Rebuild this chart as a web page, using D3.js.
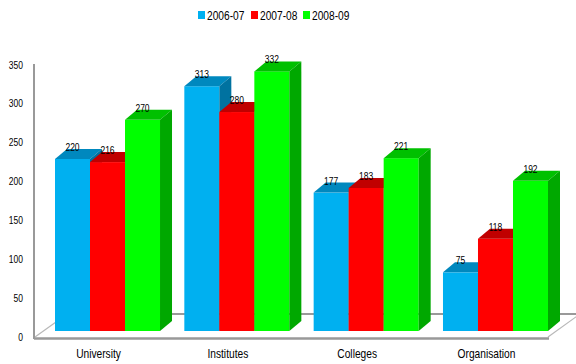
<!DOCTYPE html>
<html><head><meta charset="utf-8">
<script src="https://cdn.jsdelivr.net/npm/d3@7"></script>
<style>
body{margin:0;background:#fff;}
text{font-family:"Liberation Sans Narrow","Arial Narrow","Liberation Sans",Arial,sans-serif;fill:#000;}
</style></head>
<body>
<svg id="c" width="576" height="364"></svg>
<script>
const categories = ["University","Institutes","Colleges","Organisation"];
const seriesNames = ["2006-07","2007-08","2008-09"];
const values2006 = [220, 313, 177, 75];
const values2007 = [216, 280, 183, 118];
const values2008 = [270, 332, 221, 192];
const yTicks = [0,50,100,150,200,250,300,350];

const series = [values2006, values2007, values2008];
const front = ["#00B0F0","#FF0000","#00FF00"];
const topC  = ["#0088BE","#C00000","#00C000"];
const sideC = ["#0072A0","#B00000","#00A800"];

const svg = d3.select("#c");
const DX = 12, DY = 10;
const SX = 0.85; // horizontal condensing of text

function txt(sel, x, y, s, size, anchor){
  return sel.append("text")
    .attr("transform",`translate(${x},${y}) scale(${SX},1)`)
    .attr("text-anchor",anchor||"start")
    .style("font-size",size+"px").text(s);
}

// scales
const x0 = d3.scaleBand().domain(categories).range([55, 548]).paddingInner(0.188).paddingOuter(0);
const x1 = d3.scaleBand().domain(seriesNames).range([0, x0.bandwidth()]);
const yBar = d3.scaleLinear().domain([0,350]).range([331, 331 - 350*0.782]);
const yAxis = d3.scaleLinear().domain([0,350]).range([337, 65]);

// floor
const g0 = svg.append("g");
g0.append("line").attr("x1",35).attr("y1",337).attr("x2",70).attr("y2",312).attr("stroke","#b8b8b8").attr("stroke-width",1.2);
g0.append("line").attr("x1",548).attr("y1",337).attr("x2",580).attr("y2",314).attr("stroke","#b8b8b8").attr("stroke-width",1.2);
g0.append("line").attr("x1",62).attr("y1",314).attr("x2",576).attr("y2",314).attr("stroke","#999").attr("stroke-width",2);
g0.append("line").attr("x1",34).attr("y1",338.5).attr("x2",549).attr("y2",338.5).attr("stroke","#999").attr("stroke-width",2.5);
g0.append("line").attr("x1",34).attr("y1",64).attr("x2",34).attr("y2",339).attr("stroke","#999").attr("stroke-width",2);

// y axis labels (built from axis scale ticks)
const axG = svg.append("g");
yTicks.forEach(t=>{
  txt(axG, 23, yAxis(t)+3.5, d3.format("d")(t), 10, "end");
});

// bars
const bars = [];
categories.forEach((c,ci)=>{
  seriesNames.forEach((s,si)=>{
    bars.push({c, s, si, v: series[si][ci]});
  });
});
const bg = svg.append("g");
bars.forEach(b=>{
  const x = x0(b.c) + x1(b.s);
  const w = x1.bandwidth();
  const yt = yBar(b.v), yb = yBar(0);
  const g = bg.append("g");
  g.append("rect").attr("x",x).attr("y",yt).attr("width",w).attr("height",yb-yt).attr("fill",front[b.si]);
  g.append("polygon").attr("points",`${x},${yt} ${x+DX},${yt-DY} ${x+w+DX},${yt-DY} ${x+w},${yt}`).attr("fill",topC[b.si]);
  g.append("polygon").attr("points",`${x+w},${yt} ${x+w+DX},${yt-DY} ${x+w+DX},${yb-DY} ${x+w},${yb}`).attr("fill",sideC[b.si]);
});
// value labels
const lblG = svg.append("g");
bars.forEach(b=>{
  const x = x0(b.c) + x1(b.s) + x1.bandwidth()/2;
  txt(lblG, x, yBar(b.v)-8, b.v, 10, "middle");
});

// category labels
const catG = svg.append("g");
categories.forEach(c=>{
  txt(catG, x0(c)+x0.bandwidth()/2-9, 358, c, 12, "middle");
});

// legend
const lg = svg.append("g");
const lx = [198, 251, 303];
seriesNames.forEach((s,i)=>{
  lg.append("rect").attr("x",lx[i]).attr("y",11).attr("width",7).attr("height",8).attr("fill",front[i]);
  txt(lg, lx[i]+9, 19.5, s, 12, "start");
});
</script>
</body></html>
